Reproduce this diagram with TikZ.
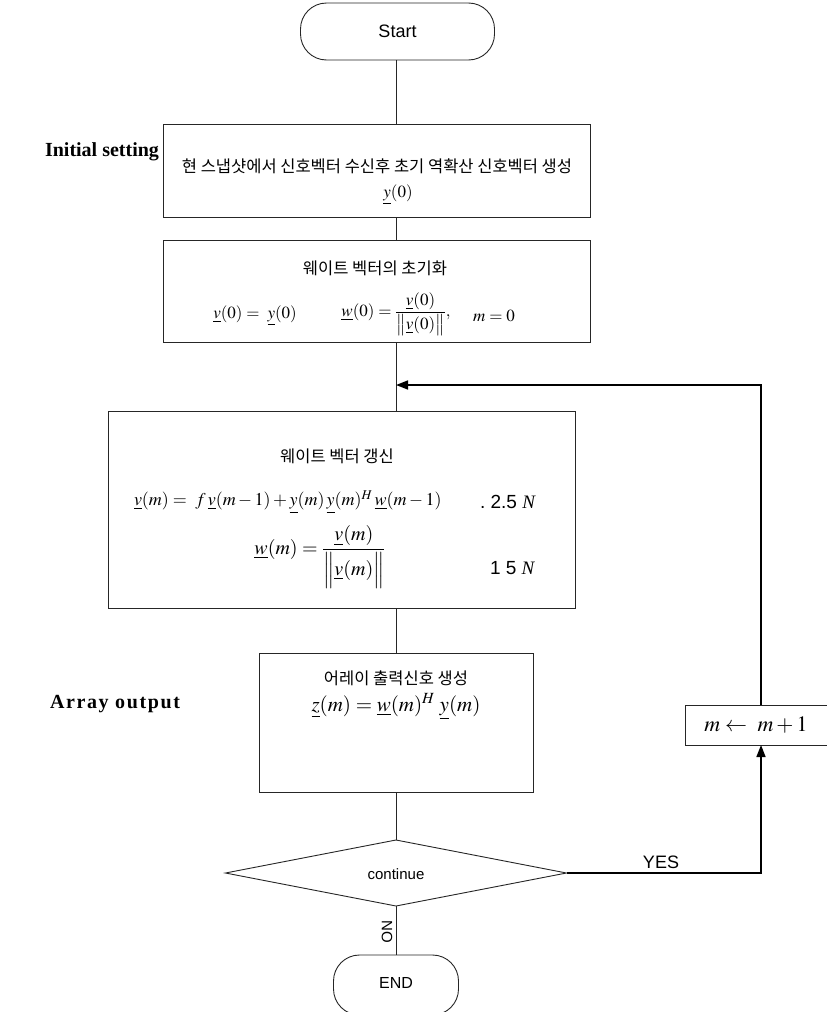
\documentclass[tikz,border=0pt]{standalone}
\usepackage{amsmath}
\usepackage{mathptmx}
\usepackage{fontspec}
\setmainfont{Liberation Serif}
\setsansfont{Liberation Sans}
\newfontfamily\kr{Noto Sans CJK KR}
\usetikzlibrary{shapes.geometric,arrows.meta}
\newcommand{\ul}[1]{\underline{#1}}
\begin{document}
\begin{tikzpicture}[x=1pt,y=-1pt,
  every node/.style={inner sep=0pt, outer sep=0pt},
  blk/.style={draw=black!85, line width=0.9pt},
  term/.style={draw=black!85, line width=0.9pt, rounded corners=26pt},
  conn/.style={draw=black!85, line width=0.9pt},
  fb/.style={draw=black, line width=1.6pt},
  tip/.style={-{Triangle[length=12pt,width=9pt]}},
  krt/.style={font=\kr\fontsize{16.5}{19}\selectfont},
  sf/.style={font=\sffamily\fontsize{18}{21}\selectfont},
  lbl/.style={font=\bfseries\fontsize{20}{23}\selectfont},
  eqs/.style={font=\fontsize{17}{20}\selectfont},
  eqb/.style={font=\fontsize{20}{24}\selectfont}
]
\useasboundingbox (0,0) rectangle (827,1012);

% terminals
\node[term, minimum width=194pt, minimum height=57pt] (start) at (397.5,31.5) {};
\node[sf] (starttxt) at (397.5,31.5) {Start};

% box 1
\node[blk, minimum width=427pt, minimum height=93pt] (b1) at (376.5,170.5) {};
\node[krt] (b1t) at (377,166) {현 스냅샷에서 신호벡터 수신후 초기 역확산 신호벡터 생성};
\node[eqs] (b1e) at (398,195) {$\ul{y}(0)$};
\node[lbl] (init) at (102,152) {Initial setting};

% box 2
\node[blk, minimum width=427pt, minimum height=102pt] (b2) at (376.5,291) {};
\node[krt] (b2t) at (375,268) {웨이트 벡터의 초기화};
\node[eqs] (b2e1) at (255,316) {$\ul{v}(0) = \ \ul{y}(0)$};
\node[eqs] (b2e2) at (396,314) {$\ul{w}(0) = \dfrac{\ul{v}(0)}{\big\|\ul{v}(0)\big\|},$};
\node[eqs] (b2e3) at (494,316) {$\boldsymbol{m} = 0$};

% box 3
\node[blk, minimum width=467pt, minimum height=197pt] (b3) at (341.5,509.5) {};
\node[krt] (b3t) at (337,456) {웨이트 벡터 갱신};
\node[font=\fontsize{18}{22}\selectfont, anchor=west] (b3e1) at (134,502) {$\ul{v}(m) = \ f\,\ul{v}(m-1) + \ul{y}(m)\,\ul{y}(m)^{H}\,\ul{w}(m-1)$};
\node[anchor=west] (b3c1) at (480,502) {\sffamily\fontsize{19}{22}\selectfont .\ 2.5 \textit{\rmfamily N}};
\node[eqb] (b3e2) at (320,557) {$\ul{w}(m) = \dfrac{\ul{v}(m)}{\Big\|\ul{v}(m)\Big\|}$};
\node[anchor=west] (b3c2) at (490,568) {\sffamily\fontsize{19}{22}\selectfont 1 5 \textit{\rmfamily N}};

% box 4
\node[blk, minimum width=274pt, minimum height=139pt] (b4) at (396,722.5) {};
\node[krt] (b4t) at (396,678) {어레이 출력신호 생성};
\node[font=\fontsize{21}{25}\selectfont] (b4e) at (396,707) {$\ul{z}(m) = \ul{w}(m)^{H}\;\ul{y}(m)$};
\node[lbl] (arr) at (115,704) {\addfontfeature{LetterSpace=8}Array output};

% update box
\node[blk, minimum width=150pt, minimum height=40pt] (mb) at (760,725) {};
\node[font=\fontsize{22}{26}\selectfont] (mbt) at (756,725) {$m \leftarrow\ m+1$};

% decision
\node[draw=black!85, line width=0.9pt, diamond, minimum width=341pt, minimum height=66pt] (dec) at (396,873) {};
\node[font=\sffamily\fontsize{15}{18}\selectfont] (dect) at (396,874) {continue};
\node[sf] (yes) at (661,862) {YES};

% end
\node[term, minimum width=125pt, minimum height=60pt] (end) at (396,985) {};
\node[font=\sffamily\fontsize{16}{19}\selectfont] (endt) at (396,983) {END};

% connectors
\coordinate (cx) at (396,0);
\draw[conn] (start.south -| cx) -- (b1.north -| cx);
\draw[conn] (b1.south -| cx) -- (b2.north -| cx);
\draw[conn] (b2.south -| cx) -- (b3.north -| cx);
\draw[conn] (b3.south -| cx) -- (b4.north);
\draw[conn] (b4.south) -- (dec.north);
\coordinate (rx) at (761,385);
\draw[fb, tip] (mb.north -| rx) -- (rx) -- (cx |- rx);
\draw[fb, tip] (dec.east) -- (dec.east -| rx) -- (mb.south -| rx);
\draw[conn] (dec.south) -- (end.north);
\node[rotate=-90, font=\sffamily\fontsize{15}{18}\selectfont] (no) at (387,932) {NO};
\end{tikzpicture}
\end{document}
